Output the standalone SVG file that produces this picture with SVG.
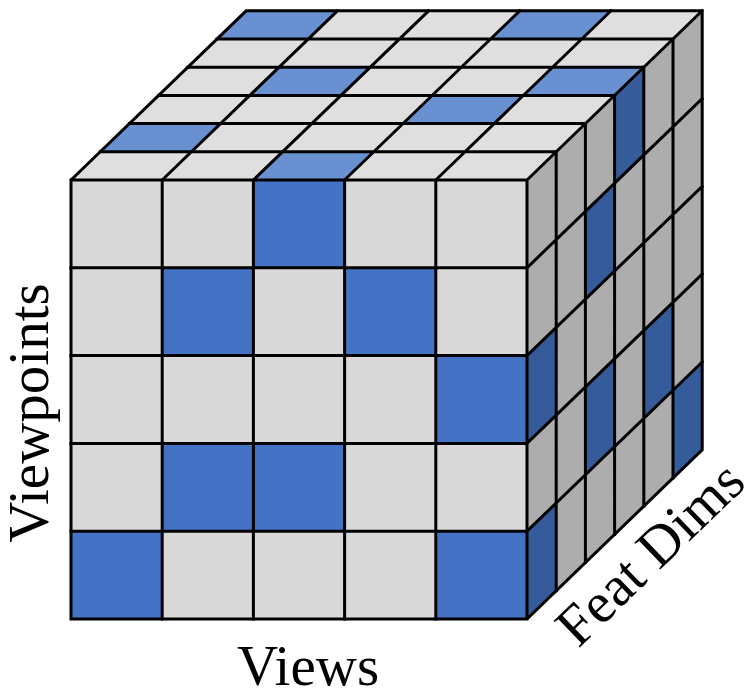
<svg xmlns="http://www.w3.org/2000/svg" width="746" height="689" viewBox="0 0 746 689">
<style>
.fg{fill:#d9d9d9}.fb{fill:#4472c4}
.tg{fill:#dfdfdf}.tb{fill:#6990d0}
.rg{fill:#adadad}.rb{fill:#355b9b}
.ln{stroke:#000;stroke-width:3;fill:none;stroke-linejoin:miter;stroke-linecap:square}
.lbl{font-family:"Liberation Serif","Times New Roman",serif;font-size:57px;fill:#000;text-anchor:middle}
</style>
<rect width="746" height="689" fill="#fff"/>
<g id="front-face">
<rect class="fg" x="71" y="180" width="456" height="439"/>
<rect class="fb" x="253.4" y="180" width="91.2" height="87.8"/>
<rect class="fb" x="162.2" y="267.8" width="91.2" height="87.8"/>
<rect class="fb" x="344.6" y="267.8" width="91.2" height="87.8"/>
<rect class="fb" x="435.8" y="355.6" width="91.2" height="87.8"/>
<rect class="fb" x="162.2" y="443.4" width="91.2" height="87.8"/>
<rect class="fb" x="253.4" y="443.4" width="91.2" height="87.8"/>
<rect class="fb" x="71" y="531.2" width="91.2" height="87.8"/>
<rect class="fb" x="435.8" y="531.2" width="91.2" height="87.8"/>
<path class="ln" d="M162.2 180V619M253.4 180V619M344.6 180V619M435.8 180V619M71 267.8H527M71 355.6H527M71 443.4H527M71 531.2H527"/>
</g>
<g id="top-face">
<polygon class="tg" points="71,180 527,180 702.2,10.8 246.2,10.8"/>
<polygon class="tb" points="217,39 308.2,39 337.4,10.8 246.2,10.8"/>
<polygon class="tb" points="490.6,39 581.8,39 611,10.8 519.8,10.8"/>
<polygon class="tb" points="249.8,95.4 341,95.4 370.2,67.2 279,67.2"/>
<polygon class="tb" points="523.4,95.4 614.6,95.4 643.8,67.2 552.6,67.2"/>
<polygon class="tb" points="403,123.6 494.2,123.6 523.4,95.4 432.2,95.4"/>
<polygon class="tb" points="100.2,151.8 191.4,151.8 220.6,123.6 129.4,123.6"/>
<polygon class="tb" points="253.4,180 344.6,180 373.8,151.8 282.6,151.8"/>
<path class="ln" d="M100.2 151.8H556.2M129.4 123.6H585.4M158.6 95.4H614.6M187.8 67.2H643.8M217 39H673M162.2 180L337.4 10.8M253.4 180L428.6 10.8M344.6 180L519.8 10.8M435.8 180L611 10.8"/>
</g>
<g id="right-face">
<polygon class="rg" points="527,180 702.2,10.8 702.2,449.8 527,619"/>
<polygon class="rb" points="527,355.6 556.2,327.4 556.2,415.2 527,443.4"/>
<polygon class="rb" points="527,531.2 556.2,503 556.2,590.8 527,619"/>
<polygon class="rb" points="585.4,211.4 614.6,183.2 614.6,271 585.4,299.2"/>
<polygon class="rb" points="585.4,387 614.6,358.8 614.6,446.6 585.4,474.8"/>
<polygon class="rb" points="614.6,95.4 643.8,67.2 643.8,155 614.6,183.2"/>
<polygon class="rb" points="643.8,330.6 673,302.4 673,390.2 643.8,418.4"/>
<polygon class="rb" points="673,390.2 702.2,362 702.2,449.8 673,478"/>
<path class="ln" d="M556.2 151.8V590.8M585.4 123.6V562.6M614.6 95.4V534.4M643.8 67.2V506.2M673 39V478M527 267.8L702.2 98.6M527 355.6L702.2 186.4M527 443.4L702.2 274.2M527 531.2L702.2 362"/>
</g>
<g id="outline">
<path class="ln" d="M71 180L246.2 10.8H702.2V449.8L527 619H71ZM71 180H527V619M527 180L702.2 10.8"/>
</g>
<g id="labels">
<text class="lbl" transform="translate(48,413) rotate(-90)">Viewpoints</text>
<text class="lbl" x="308" y="685">Views</text>
<text class="lbl" transform="translate(663,567) rotate(-44)">Feat Dims</text>
</g>
</svg>
